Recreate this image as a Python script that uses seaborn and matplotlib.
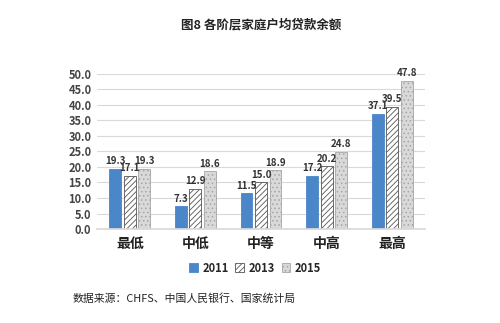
import matplotlib
matplotlib.use("Agg")
import matplotlib.pyplot as plt
import seaborn as sns
import pandas as pd

categories = ["最低", "中低", "中等", "中高", "最高"]
years = ["2011", "2013", "2015"]
v2011 = [19.3, 7.3, 11.5, 17.2, 37.1]
v2013 = [17.1, 12.9, 15.0, 20.2, 39.5]
v2015 = [19.3, 18.6, 18.9, 24.8, 47.8]
yticks = [0, 5, 10, 15, 20, 25, 30, 35, 40, 45, 50]

rows = []
for y, vals in zip(years, [v2011, v2013, v2015]):
    for c, v in zip(categories, vals):
        rows.append({"cat": c, "year": y, "val": v})
df = pd.DataFrame(rows)

sns.set_theme(style="white")
plt.rcParams['font.family'] = ['Noto Sans CJK SC', 'DejaVu Sans']
plt.rcParams['hatch.linewidth'] = 0.6

fig = plt.figure(figsize=(5, 3.23), dpi=100)
ax = fig.add_axes([0.194, 0.291, 0.656, 0.48])

faces = ["#4a86c8", "#ffffff", "#d9d9d9"]
edges = ["#4a86c8", "#555555", "#a5a5a5"]
hatches = [None, "//////", "...."]

sns.barplot(data=df, x="cat", y="val", hue="year", hue_order=years, order=categories,
            ax=ax, width=0.66, gap=0.18, legend=False, palette=faces)

for i, cont in enumerate(ax.containers):
    for p in cont:
        p.set_facecolor(faces[i])
        p.set_edgecolor(edges[i])
        p.set_linewidth(0.6)
        if hatches[i]:
            p.set_hatch(hatches[i])
    ax.bar_label(cont, fmt="%.1f", padding=2, fontsize=7, fontweight="bold", color="#333333")

ax.set_ylim(0, 50)
ax.set_yticks(yticks)
ax.set_yticklabels([f"{t:.1f}" for t in yticks], fontsize=8, fontweight="bold", color="#444444")
ax.set_xticklabels(categories, fontsize=10, fontweight="bold", color="#222222")
ax.tick_params(axis="x", length=0, pad=6)
ax.tick_params(axis="y", length=0, pad=4)
ax.grid(axis="y", color="#d9d9d9", linewidth=0.8)
ax.set_axisbelow(True)
for s in ["top", "right", "left"]:
    ax.spines[s].set_visible(False)
ax.spines["bottom"].set_color("#d9d9d9")
ax.set_xlabel("")
ax.set_ylabel("")

from matplotlib.patches import Patch
handles = [Patch(facecolor=faces[i], edgecolor=edges[i], hatch=hatches[i], linewidth=0.6) for i in range(3)]
fig.legend(handles, years, loc="center", bbox_to_anchor=(0.51, 0.17), ncol=3, frameon=False,
           prop={"size": 8, "weight": "bold"}, handlelength=0.8, handleheight=0.8,
           handletextpad=0.4, columnspacing=0.6)

fig.text(0.522, 0.922, "图8 各阶层家庭户均贷款余额", ha="center", va="center", fontsize=9, fontweight="bold", color="#222222")
fig.text(0.146, 0.077, "数据来源：CHFS、中国人民银行、国家统计局", ha="left", va="center", fontsize=7.8, color="#222222")

fig.savefig("out.png", dpi=100)
